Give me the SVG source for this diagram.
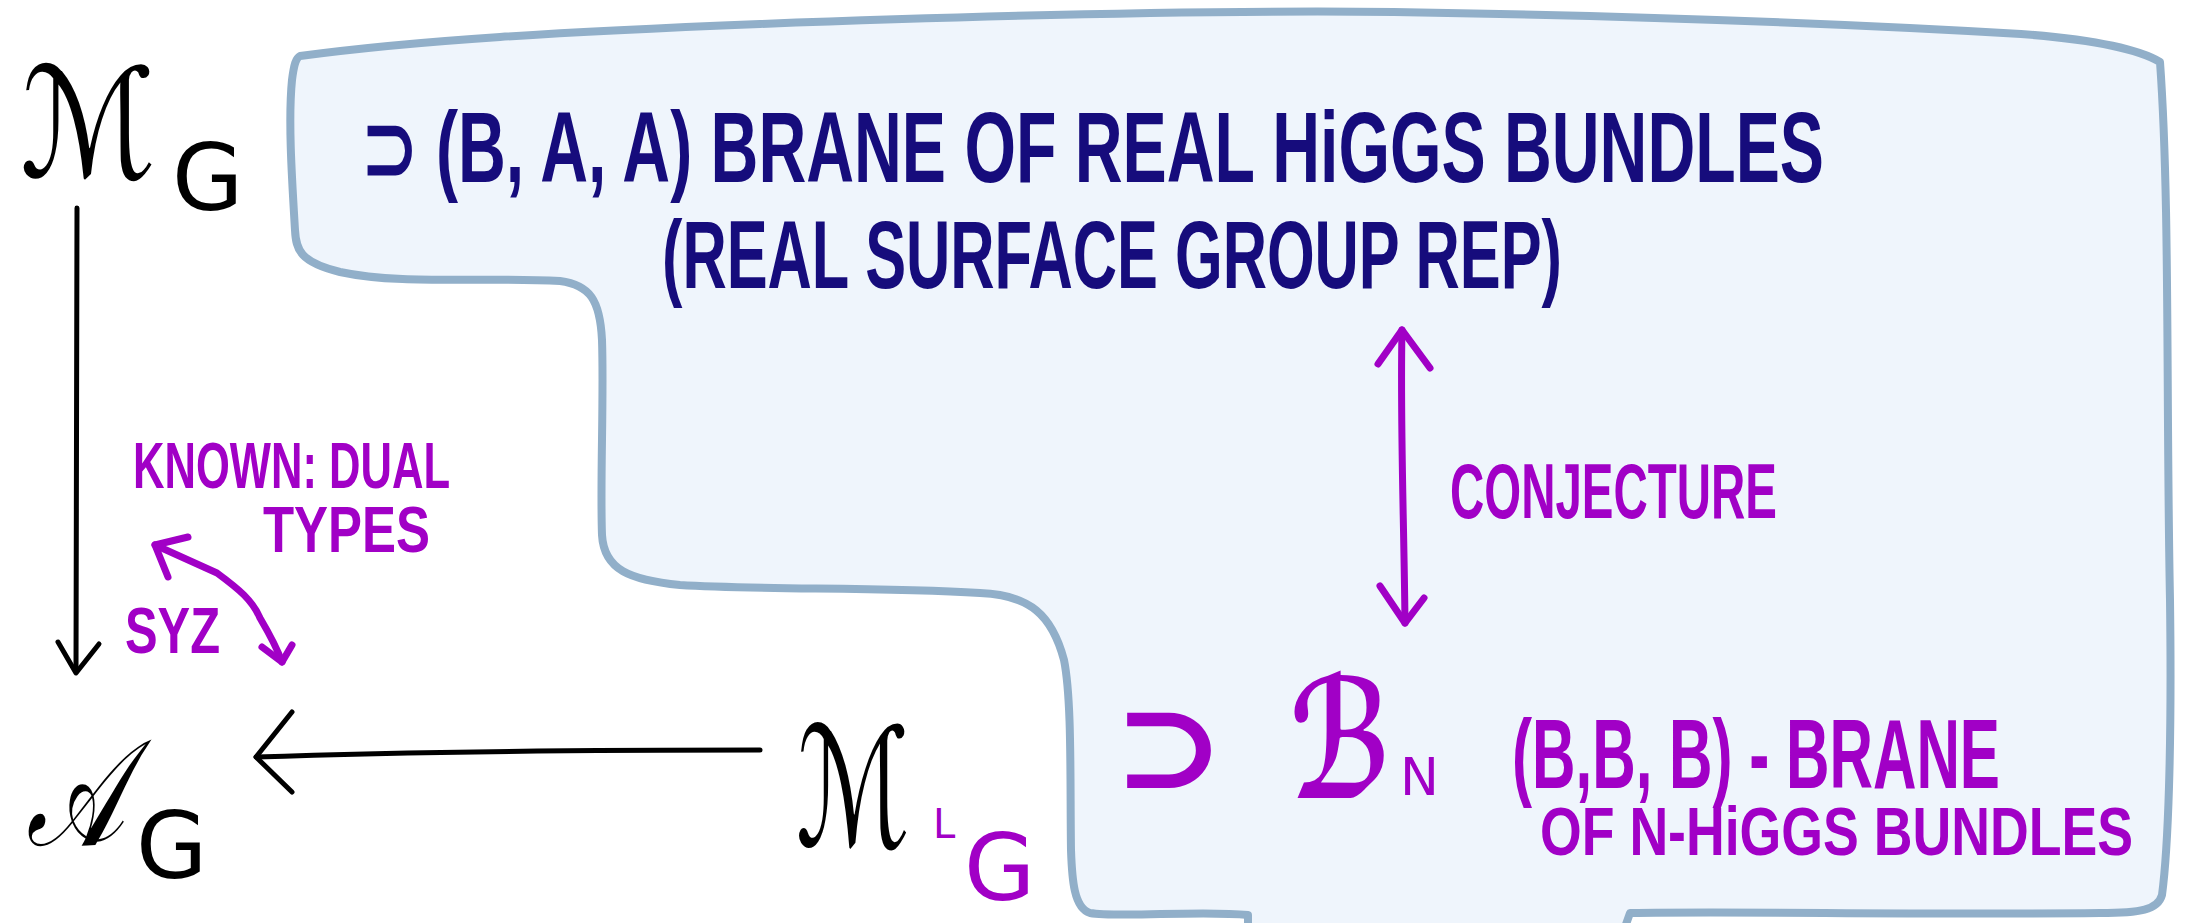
<svg xmlns="http://www.w3.org/2000/svg" width="2186" height="923" viewBox="0 0 2186 923">
<style>
.blob{fill:#eff5fc;stroke:#91afc9;stroke-width:8;stroke-linejoin:round}
.navy{fill:#160c7c;font-family:"Liberation Sans Narrow","Liberation Sans",sans-serif;font-weight:bold}
.pur{fill:#a100c6;font-family:"Liberation Sans Narrow","Liberation Sans",sans-serif;font-weight:bold}
.sym{font-family:"DejaVu Serif","DejaVu Sans",serif}
.sub{font-family:"DejaVu Sans",sans-serif;font-weight:normal}
.blk{fill:#000}
.lk{fill:none;stroke:#000;stroke-width:5;stroke-linecap:round;stroke-linejoin:round}
.lp{fill:none;stroke:#a100c6;stroke-width:7;stroke-linecap:round;stroke-linejoin:round}
</style>
<rect width="2186" height="923" fill="#fff"/>
<g id="region">
<path class="blob" d="M300,56 C420,40 560,32 760,24 C1000,15 1200,10 1394,12 C1650,16 1850,24 2021,34 C2100,40 2140,50 2160,62 C2170,200 2166,400 2170,600 C2172,750 2168,850 2162,895 C2158,910 2140,913 2100,913 C1900,915 1750,911 1630,913 L1624,930 L1248,930 L1248,915 C1200,910 1120,918 1090,913 C1074,908 1072,880 1071,850 C1070,780 1072,700 1064,660 C1052,615 1030,595 980,593 C880,587 760,590 680,585 C630,580 604,570 602,535 C600,480 604,400 602,340 C600,300 590,285 560,281 C480,277 400,285 340,272 C300,262 296,250 295,230 C292,180 288,120 292,80 C294,64 296,58 300,56 Z"/>
</g>
<g id="MG">
<text class="blk sym" x="20" y="177" font-size="152" font-style="italic" textLength="136" lengthAdjust="spacingAndGlyphs">ℳ</text>
<text class="blk sub" x="172" y="210" font-size="92">G</text>
</g>
<g id="AG">
<text class="blk sym" x="26" y="845" font-size="150" font-style="italic" textLength="98" lengthAdjust="spacingAndGlyphs">𝒜</text>
<text class="blk sub" x="136" y="878" font-size="92">G</text>
</g>
<g id="MLG">
<text class="blk sym" x="796" y="846" font-size="165" font-style="italic" textLength="114" lengthAdjust="spacingAndGlyphs">ℳ</text>
<text class="pur sub" x="933" y="838" font-size="40">L</text>
<text class="pur sub" x="964" y="900" font-size="92">G</text>
</g>
<g id="realbrane">
<text class="navy" x="362" y="182" font-size="100" textLength="1462" lengthAdjust="spacingAndGlyphs">⊃ (B, A, A) BRANE OF REAL HiGGS BUNDLES</text>
<text class="navy" x="662" y="288" font-size="96" textLength="900" lengthAdjust="spacingAndGlyphs">(REAL SURFACE GROUP REP)</text>
</g>
<g id="BN">
<text class="pur sym" x="1113" y="788" font-size="120" textLength="112" lengthAdjust="spacingAndGlyphs">⊃</text>
<text class="pur sym" x="1290" y="798" font-size="165" font-style="italic" textLength="102" lengthAdjust="spacingAndGlyphs">ℬ</text>
<text class="pur sub" x="1400" y="795" font-size="52">N</text>
</g>
<g id="bbb">
<text class="pur" x="1512" y="788" font-size="98" textLength="488" lengthAdjust="spacingAndGlyphs">(B,B, B) - BRANE</text>
<text class="pur" x="1540" y="855" font-size="68" textLength="593" lengthAdjust="spacingAndGlyphs">OF N-HiGGS BUNDLES</text>
</g>
<g id="labels">
<text class="pur" x="1450" y="518" font-size="78" textLength="327" lengthAdjust="spacingAndGlyphs">CONJECTURE</text>
<text class="pur" x="133" y="488" font-size="64" textLength="317" lengthAdjust="spacingAndGlyphs">KNOWN: DUAL</text>
<text class="pur" x="263" y="552" font-size="64" textLength="167" lengthAdjust="spacingAndGlyphs">TYPES</text>
<text class="pur" x="125" y="653" font-size="64" textLength="95" lengthAdjust="spacingAndGlyphs">SYZ</text>
</g>
<g id="connectors">
<path class="lk" d="M77,208 C78,350 75,500 76,672"/>
<path class="lk" d="M58,642 L76,673 L99,644"/>
<path class="lk" d="M760,750 C600,750 400,752 256,757"/>
<path class="lk" d="M292,712 L256,757 L292,792"/>
<path class="lp" d="M155,545 L217,573 C240,590 252,600 260,618 C270,635 277,648 282,662"/>
<path class="lp" d="M168,577 L155,545 L188,537"/>
<path class="lp" d="M262,647 L282,662 L292,645"/>
<path class="lp" d="M1402,330 C1400,420 1404,520 1405,623"/>
<path class="lp" d="M1378,364 L1402,330 L1430,368"/>
<path class="lp" d="M1380,586 L1405,623 L1424,598"/>
</g>
</svg>
